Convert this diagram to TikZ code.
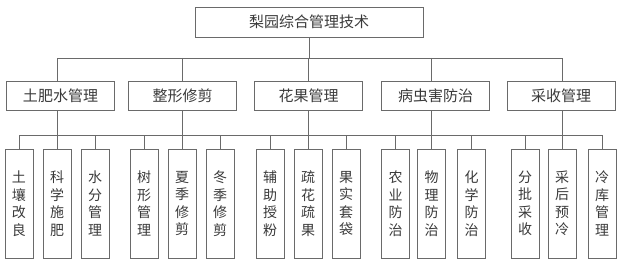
\documentclass[tikz,border=0pt]{standalone}
\usepackage{fontspec}
\newfontfamily\cjk{Noto Sans CJK SC}
\usetikzlibrary{positioning,calc}
\definecolor{linegray}{HTML}{6A6A6A}
\definecolor{textgray}{HTML}{3A3A3A}

\begin{document}
\begin{tikzpicture}[
  x=1pt, y=1pt,
  font=\cjk,
  rootbox/.style={draw=linegray, line width=.8pt, minimum width=228pt, minimum height=30pt, inner sep=0pt, text=textgray, font=\cjk\fontsize{15}{18}\selectfont},
  groupbox/.style={draw=linegray, line width=.8pt, minimum width=108pt, minimum height=29pt, inner sep=0pt, text=textgray, font=\cjk\fontsize{15}{18}\selectfont},
  leaf/.style={draw=linegray, line width=.8pt, minimum width=28pt, minimum height=109pt, inner sep=0pt, align=center, text=textgray, font=\cjk\fontsize{14}{17.5}\selectfont},
  link/.style={draw=linegray, line width=.8pt}
]
\useasboundingbox (0,0) rectangle (618,-262);

% Root
\node[rootbox] (root) at (309,-22) {梨园综合管理技术};

% Second level
\node[groupbox] (g1) at (60.5,-95.5) {土肥水管理};
\node[groupbox] (g2) at (182.5,-95.5) {整形修剪};
\node[groupbox] (g3) at (308.5,-95.5) {花果管理};
\node[groupbox] (g4) at (435.5,-95.5) {病虫害防治};
\node[groupbox] (g5) at (561,-95.5) {采收管理};

% Leaves
\node[leaf] (l1) at (19,-203.5) {土\\壤\\改\\良};
\node[leaf] (l2) at (57,-203.5) {科\\学\\施\\肥};
\node[leaf] (l3) at (95,-203.5) {水\\分\\管\\理};
\node[leaf] (l4) at (144,-203.5) {树\\形\\管\\理};
\node[leaf] (l5) at (182,-203.5) {夏\\季\\修\\剪};
\node[leaf] (l6) at (220,-203.5) {冬\\季\\修\\剪};
\node[leaf] (l7) at (270,-203.5) {辅\\助\\授\\粉};
\node[leaf] (l8) at (308,-203.5) {疏\\花\\疏\\果};
\node[leaf] (l9) at (346,-203.5) {果\\实\\套\\袋};
\node[leaf] (l10) at (395.5,-203.5) {农\\业\\防\\治};
\node[leaf] (l11) at (431.5,-203.5) {物\\理\\防\\治};
\node[leaf] (l12) at (471.5,-203.5) {化\\学\\防\\治};
\node[leaf] (l13) at (525,-203.5) {分\\批\\采\\收};
\node[leaf] (l14) at (562,-203.5) {采\\后\\预\\冷};
\node[leaf] (l15) at (602,-203.5) {冷\\库\\管\\理};

% Bus lines
\coordinate (busA) at (0,-58);
\coordinate (busB) at (0,-135);

% Root to second level
\draw[link] (root.south) -- (root |- busA);
\draw[link] (l2 |- g1.north) -- (l2 |- busA) -- (l14 |- busA) -- (l14 |- g5.north);
\draw[link] (l5 |- busA) -- (l5 |- g2.north);
\draw[link] (l8 |- busA) -- (l8 |- g3.north);
\draw[link] (l11 |- busA) -- (l11 |- g4.north);

% Second level to leaves
\draw[link] (l1.north) -- (l1 |- busB) -- (l15 |- busB) -- (l15.north);
\draw[link] (g1.south -| l2) -- (l2.north);
\draw[link] (g2.south -| l5) -- (l5.north);
\draw[link] (g3.south -| l8) -- (l8.north);
\draw[link] (g4.south -| l11) -- (l11.north);
\draw[link] (g5.south -| l14) -- (l14.north);
\draw[link] (l3.north) -- (l3 |- busB);
\draw[link] (l4.north) -- (l4 |- busB);
\draw[link] (l6.north) -- (l6 |- busB);
\draw[link] (l7.north) -- (l7 |- busB);
\draw[link] (l9.north) -- (l9 |- busB);
\draw[link] (l10.north) -- (l10 |- busB);
\draw[link] (l12.north) -- (l12 |- busB);
\draw[link] (l13.north) -- (l13 |- busB);
\end{tikzpicture}
\end{document}
